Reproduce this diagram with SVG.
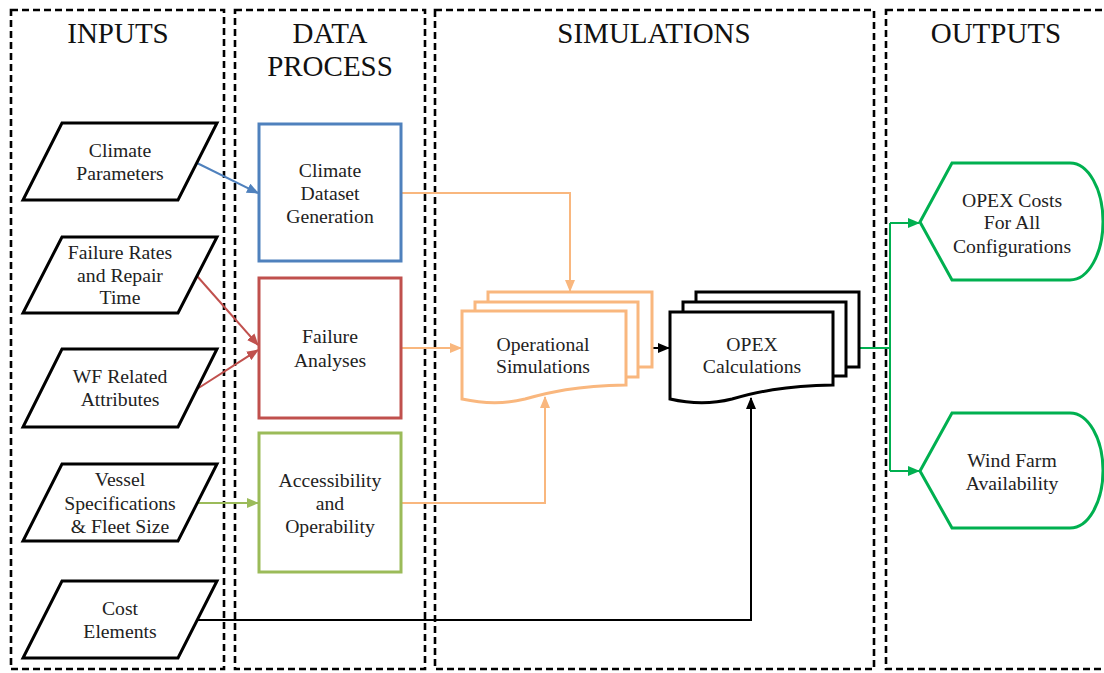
<svg xmlns="http://www.w3.org/2000/svg" width="1104" height="673" viewBox="0 0 1104 673">
<style>
.frame{fill:none;stroke:#000;stroke-width:2.6;stroke-dasharray:7 4}
.title{font-family:"Liberation Serif",serif;font-size:29px;fill:#111;text-anchor:middle}
.lbl{font-family:"Liberation Serif",serif;font-size:19.7px;fill:#222;text-anchor:middle}
.para{fill:#fff;stroke:#000;stroke-width:3;stroke-linejoin:miter}
.box{fill:#fff;stroke-width:3}
.conn{fill:none;stroke-width:2}
</style>
<defs>
<marker id="aBlue" markerUnits="userSpaceOnUse" markerWidth="12" markerHeight="10" refX="11" refY="5" orient="auto"><path d="M0,0 L12,5 L0,10 Z" fill="#4F81BD"/></marker>
<marker id="aRed" markerUnits="userSpaceOnUse" markerWidth="12" markerHeight="10" refX="11" refY="5" orient="auto"><path d="M0,0 L12,5 L0,10 Z" fill="#C0504D"/></marker>
<marker id="aLG" markerUnits="userSpaceOnUse" markerWidth="12" markerHeight="10" refX="11" refY="5" orient="auto"><path d="M0,0 L12,5 L0,10 Z" fill="#9BBB59"/></marker>
<marker id="aOr" markerUnits="userSpaceOnUse" markerWidth="12" markerHeight="10" refX="11" refY="5" orient="auto"><path d="M0,0 L12,5 L0,10 Z" fill="#F9B77E"/></marker>
<marker id="aBk" markerUnits="userSpaceOnUse" markerWidth="12" markerHeight="10" refX="11" refY="5" orient="auto"><path d="M0,0 L12,5 L0,10 Z" fill="#000"/></marker>
<marker id="aDG" markerUnits="userSpaceOnUse" markerWidth="12" markerHeight="10" refX="11" refY="5" orient="auto"><path d="M0,0 L12,5 L0,10 Z" fill="#00B050"/></marker>
</defs>

<g id="frames">
<rect class="frame" x="11" y="10" width="213" height="659"/>
<rect class="frame" x="235" y="10" width="190" height="659"/>
<rect class="frame" x="435" y="10" width="439" height="659"/>
<rect class="frame" x="886" y="10" width="240" height="659"/>
<text class="title" x="118" y="43">INPUTS</text>
<text class="title" x="330" y="43">DATA</text>
<text class="title" x="330" y="76">PROCESS</text>
<text class="title" x="654" y="43">SIMULATIONS</text>
<text class="title" x="996" y="43">OUTPUTS</text>
</g>

<g id="connectors">
<path class="conn" stroke="#4F81BD" d="M197,163 L258,193" marker-end="url(#aBlue)"/>
<path class="conn" stroke="#C0504D" d="M197,276 L258,345" marker-end="url(#aRed)"/>
<path class="conn" stroke="#C0504D" d="M197,389 L258,350" marker-end="url(#aRed)"/>
<path class="conn" stroke="#9BBB59" d="M197,503 H258" marker-end="url(#aLG)"/>
<path class="conn" stroke="#F9B77E" d="M401,193 H570 V291" marker-end="url(#aOr)"/>
<path class="conn" stroke="#F9B77E" d="M401,348 H461" marker-end="url(#aOr)"/>
<path class="conn" stroke="#F9B77E" d="M401,503 H545 V397" marker-end="url(#aOr)"/>
<path class="conn" stroke="#000" d="M652,348 H669" marker-end="url(#aBk)"/>
<path class="conn" stroke="#000" d="M197,620 H751 V398" marker-end="url(#aBk)"/>
<path class="conn" stroke="#00B050" d="M859,348 H890"/>
<path class="conn" stroke="#00B050" d="M890,223 V471"/>
<path class="conn" stroke="#00B050" d="M890,223 H919" marker-end="url(#aDG)"/>
<path class="conn" stroke="#00B050" d="M890,471 H919" marker-end="url(#aDG)"/>
</g>

<g id="in-climate">
<path class="para" d="M62,123 H217 L178,200 H23 Z"/>
<text class="lbl" x="120" y="157">Climate</text>
<text class="lbl" x="120" y="180">Parameters</text>
</g>
<g id="in-failure">
<path class="para" d="M62,237 H217 L178,313 H23 Z"/>
<text class="lbl" x="120" y="259">Failure Rates</text>
<text class="lbl" x="120" y="282">and Repair</text>
<text class="lbl" x="120" y="304">Time</text>
</g>
<g id="in-wf">
<path class="para" d="M62,349 H217 L178,427 H23 Z"/>
<text class="lbl" x="120" y="383">WF Related</text>
<text class="lbl" x="120" y="406">Attributes</text>
</g>
<g id="in-vessel">
<path class="para" d="M62,464 H217 L178,541 H23 Z"/>
<text class="lbl" x="120" y="486">Vessel</text>
<text class="lbl" x="120" y="510">Specifications</text>
<text class="lbl" x="120" y="533">&amp; Fleet Size</text>
</g>
<g id="in-cost">
<path class="para" d="M62,581 H217 L178,658 H23 Z"/>
<text class="lbl" x="120" y="615">Cost</text>
<text class="lbl" x="120" y="638">Elements</text>
</g>

<g id="dp-climate">
<rect class="box" stroke="#4F81BD" x="259" y="124" width="142" height="137"/>
<text class="lbl" x="330" y="177">Climate</text>
<text class="lbl" x="330" y="200">Dataset</text>
<text class="lbl" x="330" y="223">Generation</text>
</g>
<g id="dp-failure">
<rect class="box" stroke="#C0504D" x="259" y="278" width="142" height="140"/>
<text class="lbl" x="330" y="343">Failure</text>
<text class="lbl" x="330" y="367">Analyses</text>
</g>
<g id="dp-access">
<rect class="box" stroke="#9BBB59" x="259" y="433" width="142" height="139"/>
<text class="lbl" x="330" y="487">Accessibility</text>
<text class="lbl" x="330" y="510">and</text>
<text class="lbl" x="330" y="533">Operability</text>
</g>

<g id="sim-operational" fill="#fff" stroke="#F9B77E" stroke-width="3">
<path d="M488,302 V292 H652 V367 H638"/>
<path d="M475,311 V302 H638 V377 H626"/>
<path d="M462,311 H626 V385 C575,386 550,392 525,399 C505,404 485,404 462,399 Z"/>
<text class="lbl" x="543" y="351" stroke="none">Operational</text>
<text class="lbl" x="543" y="373" stroke="none">Simulations</text>
</g>

<g id="sim-opex" fill="#fff" stroke="#000" stroke-width="3">
<path d="M696,302 V292 H859 V367 H846"/>
<path d="M683,312 V302 H846 V376 H833"/>
<path d="M670,312 H833 V385 C782,386 757,392 732,399 C712,404 692,404 670,399 Z"/>
<text class="lbl" x="752" y="351" stroke="none">OPEX</text>
<text class="lbl" x="752" y="373" stroke="none">Calculations</text>
</g>

<g id="out-opex">
<path d="M920,222 L952,163 H1070 A33,58.5 0 0 1 1070,280 H952 Z" fill="#fff" stroke="#00B050" stroke-width="3"/>
<text class="lbl" x="1012" y="207">OPEX Costs</text>
<text class="lbl" x="1012" y="229">For All</text>
<text class="lbl" x="1012" y="253">Configurations</text>
</g>
<g id="out-avail">
<path d="M920,471 L952,413 H1070 A33,57.5 0 0 1 1070,528 H952 Z" fill="#fff" stroke="#00B050" stroke-width="3"/>
<text class="lbl" x="1012" y="467">Wind Farm</text>
<text class="lbl" x="1012" y="490">Availability</text>
</g>
</svg>
